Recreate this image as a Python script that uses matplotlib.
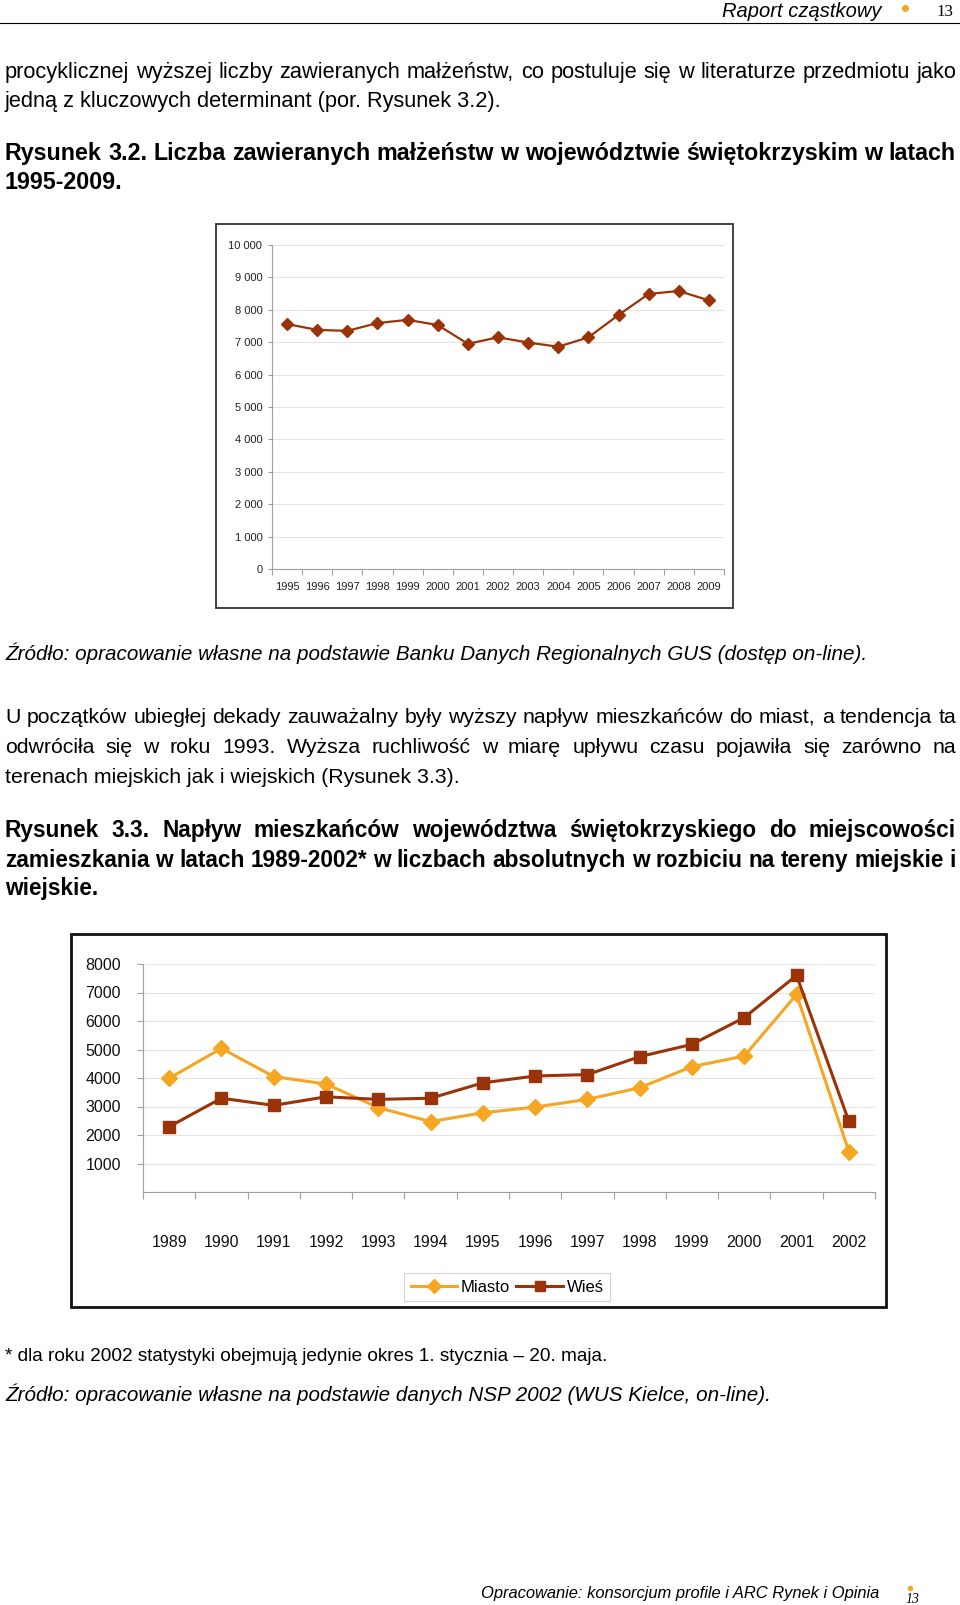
import matplotlib
matplotlib.use('Agg')
import matplotlib.pyplot as plt
from matplotlib.patches import Rectangle
from matplotlib.lines import Line2D
from matplotlib.ticker import FuncFormatter
import numpy as np

# ── Style ──
W, H = 960, 1605
BODY = ['Liberation Sans', 'DejaVu Sans']
CHART = ['Liberation Sans', 'DejaVu Sans']
BROWN = '#9A3308'
ORANGE = '#F5A623'
GRID = '#e4e4e4'
AXIS = '#a0a0a0'

# ── Data ──
years1 = ['1995', '1996', '1997', '1998', '1999', '2000', '2001', '2002',
          '2003', '2004', '2005', '2006', '2007', '2008', '2009']
marriages = [7560, 7380, 7350, 7590, 7690, 7530, 6950, 7150,
             6990, 6860, 7150, 7840, 8490, 8580, 8290]
ticks1 = [0, 1000, 2000, 3000, 4000, 5000, 6000, 7000, 8000, 9000, 10000]

years2 = ['1989', '1990', '1991', '1992', '1993', '1994', '1995',
          '1996', '1997', '1998', '1999', '2000', '2001', '2002']
miasto = [3990, 5040, 4050, 3790, 2960, 2470, 2780,
          2980, 3250, 3660, 4400, 4770, 6930, 1420]
wies = [2290, 3290, 3040, 3340, 3250, 3290, 3830,
        4070, 4120, 4750, 5180, 6120, 7600, 2480]
ticks2 = [1000, 2000, 3000, 4000, 5000, 6000, 7000, 8000]

fig = plt.figure(figsize=(W / 100, H / 100), dpi=100)
fig.patch.set_facecolor('white')
renderer = fig.canvas.get_renderer()


def fx(x):
    return x / W


def fy(y):
    return 1 - y / H


def put(x, y, s, ha='left', size=10, **kw):
    # y is the visual middle of the line; sit the text on a baseline below it
    return fig.text(fx(x), fy(y + size * 0.5), s, ha=ha, va='baseline',
                    fontsize=size, **kw)


def width_of(s, size, **kw):
    t = fig.text(0, 0, s, fontsize=size, **kw)
    w = t.get_window_extent(renderer).width
    t.remove()
    return w


def fit(x0, x1, y, s, **kw):
    size = 10 * (x1 - x0) / width_of(s, 10, **kw)
    return put(x0, y, s, size=size, **kw)


def paragraph(lines, ys, x0=5, x1=956, **kw):
    # all lines but the last are justified to x0..x1
    size = min(10 * (x1 - x0) / width_of(l, 10, **kw) for l in lines[:-1])
    for line, y in zip(lines[:-1], ys[:-1]):
        words = line.split()
        ws = [width_of(w, size, **kw) for w in words]
        gap = (x1 - x0 - sum(ws)) / (len(words) - 1)
        x = x0
        for w, wd in zip(words, ws):
            put(x, y, w, size=size, **kw)
            x += wd + gap
    put(x0, ys[-1], lines[-1], size=size, **kw)


# ── Page header ──
fit(722, 882, 10, 'Raport cząstkowy', family=BODY, style='italic')
fig.add_artist(Line2D([fx(905)], [fy(8)], marker='o', ms=4, color=ORANGE,
                      transform=fig.transFigure))
fit(937, 954, 10, '13', family=['Liberation Serif', 'DejaVu Serif'])
fig.add_artist(Line2D([0, 1], [fy(23), fy(23)], color='black', lw=0.8,
                      transform=fig.transFigure))

# ── Text above chart 1 ──
paragraph(['procyklicznej wyższej liczby zawieranych małżeństw, co postuluje się '
           'w literaturze przedmiotu jako',
           'jedną z kluczowych determinant (por. Rysunek 3.2).'],
          [70, 99], family=BODY)
paragraph(['Rysunek 3.2. Liczba zawieranych małżeństw w województwie świętokrzyskim '
           'w latach', '1995-2009.'],
          [152, 181], family=BODY, weight='bold')

# ═══════════════════════════════════════════════════════
# Chart 1: marriages 1995-2009
# ═══════════════════════════════════════════════════════
fig.add_artist(Rectangle((fx(216), fy(608)), (733 - 216) / W, (608 - 224) / H,
                         transform=fig.transFigure, fill=False, lw=1.3, ec='#333333'))
ax1 = fig.add_axes([fx(272), fy(569), (724 - 272) / W, (569 - 245) / H])
x1 = np.arange(len(years1))
ax1.plot(x1, marriages, color=BROWN, lw=1.6, marker='D', ms=6.5,
         mfc=BROWN, mec=BROWN, zorder=3)
ax1.set_xlim(-0.5, len(years1) - 0.5)
ax1.set_ylim(0, 10000)
ax1.set_yticks(ticks1)
ax1.yaxis.set_major_formatter(FuncFormatter(lambda v, p: f'{int(v):,}'.replace(',', ' ')))
ax1.set_xticks(x1)
ax1.set_xticklabels(years1)
ax1.set_xticks(np.arange(-0.5, len(years1)), minor=True)
ax1.tick_params(axis='x', which='major', length=0, pad=9, labelsize=8, labelcolor='#222')
ax1.tick_params(axis='x', which='minor', length=4, color=AXIS, width=0.8)
ax1.tick_params(axis='y', length=3, color=AXIS, width=0.8, labelsize=8,
                labelcolor='#222', pad=4)
for lab in ax1.get_xticklabels() + ax1.get_yticklabels():
    lab.set_family(CHART)
ax1.grid(axis='y', color=GRID, lw=0.8)
ax1.set_axisbelow(True)
for side in ['top', 'right']:
    ax1.spines[side].set_visible(False)
for side in ['left', 'bottom']:
    ax1.spines[side].set_color(AXIS)
    ax1.spines[side].set_linewidth(0.8)

fit(5, 870, 653, 'Źródło: opracowanie własne na podstawie Banku Danych Regionalnych GUS '
                 '(dostęp on-line).', family=BODY, style='italic')

# ── Text between charts ──
paragraph(['U początków ubiegłej dekady zauważalny były wyższy napływ mieszkańców '
           'do miast, a tendencja ta',
           'odwróciła się w roku 1993. Wyższa ruchliwość w miarę upływu czasu '
           'pojawiła się zarówno na',
           'terenach miejskich jak i wiejskich (Rysunek 3.3).'],
          [715, 745, 775], family=BODY)
paragraph(['Rysunek 3.3. Napływ mieszkańców województwa świętokrzyskiego do '
           'miejscowości',
           'zamieszkania w latach 1989-2002* w liczbach absolutnych w rozbiciu na '
           'tereny miejskie i',
           'wiejskie.'],
          [829, 859, 887], family=BODY, weight='bold')

# ═══════════════════════════════════════════════════════
# Chart 2: inflow of residents, town vs village
# ═══════════════════════════════════════════════════════
fig.add_artist(Rectangle((fx(71), fy(1307)), (886 - 71) / W, (1307 - 934) / H,
                         transform=fig.transFigure, fill=False, lw=2, ec='#111111'))
ax2 = fig.add_axes([fx(143), fy(1192), (875 - 143) / W, (1192 - 964) / H])
x2 = np.arange(len(years2))
ax2.plot(x2, miasto, color=ORANGE, lw=2.2, marker='D', ms=8.5,
         mfc=ORANGE, mec=ORANGE, label='Miasto', zorder=3)
ax2.plot(x2, wies, color=BROWN, lw=2.2, marker='s', ms=8.5,
         mfc=BROWN, mec=BROWN, label='Wieś', zorder=4)
ax2.set_xlim(-0.5, len(years2) - 0.5)
ax2.set_ylim(0, 8000)
ax2.set_yticks(ticks2)
ax2.set_yticklabels([str(t) for t in ticks2])
ax2.set_xticks(x2)
ax2.set_xticklabels(years2)
ax2.set_xticks(np.arange(-0.5, len(years2)), minor=True)
ax2.tick_params(axis='x', which='major', length=0, pad=31, labelsize=11.5, labelcolor='#111')
ax2.tick_params(axis='x', which='minor', length=5, color=AXIS, width=0.8)
ax2.tick_params(axis='y', length=4, color=AXIS, width=0.8, labelsize=11.5,
                labelcolor='#111', pad=12)
for lab in ax2.get_xticklabels() + ax2.get_yticklabels():
    lab.set_family(CHART)
ax2.grid(axis='y', color=GRID, lw=0.8)
ax2.set_axisbelow(True)
for side in ['top', 'right']:
    ax2.spines[side].set_visible(False)
for side in ['left', 'bottom']:
    ax2.spines[side].set_color(AXIS)
    ax2.spines[side].set_linewidth(0.8)

leg = ax2.legend(loc='center', bbox_to_anchor=(fx(507), fy(1287)),
                 bbox_transform=fig.transFigure, ncol=2, frameon=True,
                 fancybox=False, edgecolor='#c8c8c8', handlelength=2.8,
                 handletextpad=0.2, columnspacing=0.4, borderpad=0.4,
                 prop={'family': CHART, 'size': 12}, markerscale=0.85)
leg.get_frame().set_linewidth(0.8)

fit(5, 614, 1354, '* dla roku 2002 statystyki obejmują jedynie okres 1. stycznia – 20. maja.',
    family=BODY)
fit(5, 773, 1394, 'Źródło: opracowanie własne na podstawie danych NSP 2002 '
                  '(WUS Kielce, on-line).', family=BODY, style='italic')

# ── Page footer ──
fit(481, 882, 1592, 'Opracowanie: konsorcjum profile i ARC Rynek i Opinia',
    family=CHART, style='italic')
fig.add_artist(Line2D([fx(910)], [fy(1588)], marker='o', ms=3, color=ORANGE,
                      transform=fig.transFigure))
fit(906, 920, 1598, '13', family=['Liberation Serif', 'DejaVu Serif'], style='italic')

fig.savefig('out.png', dpi=100, facecolor='white')
plt.close()
